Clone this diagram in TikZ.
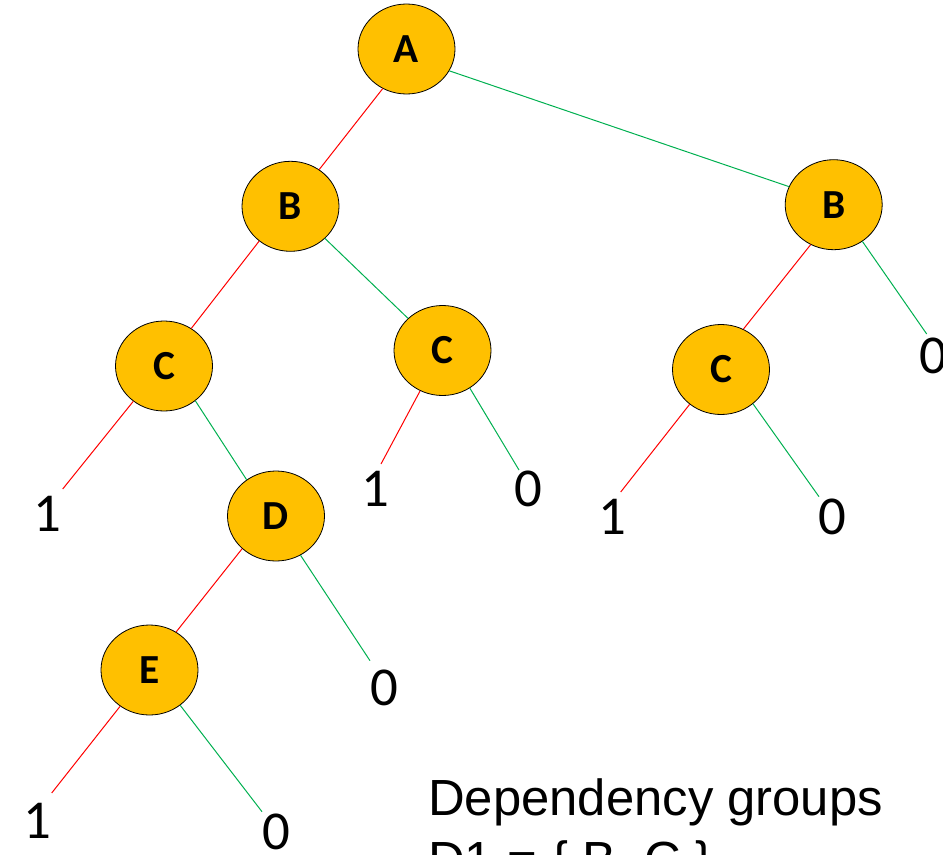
\documentclass[tikz,border=0pt]{standalone}
\usepackage{fontspec}
\setmainfont{Carlito}
\newfontfamily\labelfont{Liberation Sans}
\usetikzlibrary{shapes.geometric}
\definecolor{nodegold}{RGB}{255,192,0}
\definecolor{hiedge}{RGB}{255,0,0}
\definecolor{loedge}{RGB}{0,176,80}
\begin{document}
\begin{tikzpicture}[x=1bp,y=-1bp,
  var/.style={ellipse,draw=black,line width=0.8bp,fill=nodegold,
    minimum width=97bp,minimum height=90bp,inner sep=0pt,
    font=\fontsize{41.5}{50}\selectfont\bfseries},
  leaf/.style={inner sep=0pt,font=\fontsize{55}{66}\selectfont},
  one/.style={draw=hiedge,line width=1bp},
  zero/.style={draw=loedge,line width=1bp},
  caption/.style={anchor=base west,inner sep=0pt,
    font=\labelfont\fontsize{51}{61}\selectfont}]
\clip (0,0) rectangle (943,855);

% decision nodes
\node[var] (A)  at (406.5,49)    {A};
\node[var] (B1) at (290.5,206.3) {B};
\node[var] (B2) at (833.7,204.7) {B};
\node[var] (C1) at (164,366)     {C};
\node[var] (C2) at (442.5,350.5) {C};
\node[var] (C3) at (721,369.5)   {C};
\node[var] (D)  at (276,516)     {D};
\node[var] (E)  at (149.5,670)   {E};

% terminal values
\node[leaf] (l1) at (47,514)      {1};
\node[leaf] (l2) at (375,489)     {1};
\node[leaf] (l3) at (528.5,489)   {0};
\node[leaf] (l4) at (612,517)     {1};
\node[leaf] (l5) at (832,517)     {0};
\node[leaf] (l6) at (933.5,355.5) {0};
\node[leaf] (l7) at (384,687.5)   {0};
\node[leaf] (l8) at (37,820.5)    {1};
\node[leaf] (l9) at (276,832)     {0};

% loose ends of the branches above the terminals
\coordinate (t1) at (62.7,489);
\coordinate (t2) at (381,464);
\coordinate (t3) at (519,470);
\coordinate (t4) at (620.7,492);
\coordinate (t5) at (819,496.7);
\coordinate (t6) at (926.7,334);
\coordinate (t7) at (370,660.7);
\coordinate (t8) at (51.7,793);
\coordinate (t9) at (262,811.7);

% branches: red for 1, green for 0
\draw[one]  (A.-121)  -- (B1.52);
\draw[zero] (A.-27)   -- (B2.158);
\draw[one]  (B1.-132) -- (C1.54);
\draw[zero] (B1.-43)  -- (C2.137);
\draw[one]  (B2.-120) -- (C3.61);
\draw[zero] (B2.-52)  -- (t6);
\draw[one]  (C1.-131) -- (t1);
\draw[zero] (C1.-48)  -- (D.129);
\draw[one]  (C2.-119) -- (t2);
\draw[zero] (C2.-54)  -- (t3);
\draw[one]  (C3.-132) -- (t4);
\draw[zero] (C3.-47)  -- (t5);
\draw[one]  (D.-136)  -- (E.55);
\draw[zero] (D.-58)   -- (t7);
\draw[one]  (E.-129)  -- (t8);
\draw[zero] (E.-49)   -- (t9);

% caption
\node[caption] (cap1) at (428,815) {Dependency groups};
\node[caption] (cap2) at (428,877) {D1 = \{ B, C \}};
\end{tikzpicture}
\end{document}
